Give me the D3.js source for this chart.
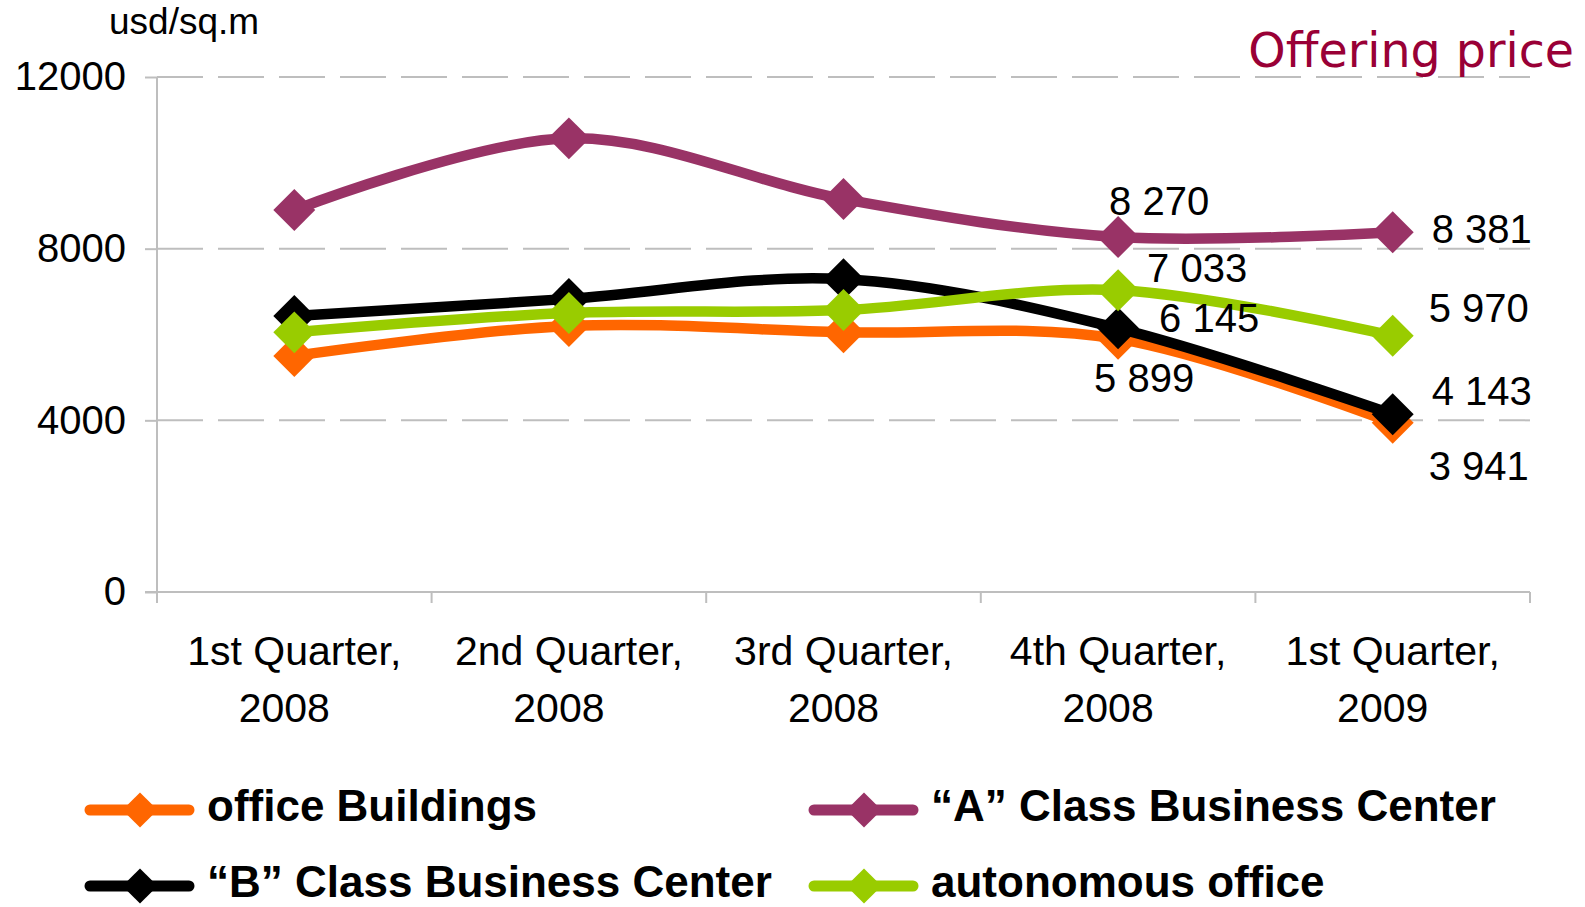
<!DOCTYPE html>
<html>
<head>
<meta charset="utf-8">
<script src="https://cdn.jsdelivr.net/npm/d3@7"></script>
<style>
    html, body { margin: 0; padding: 0; background: #fff; }
    svg { display: block; }
</style>
</head>
<body>
<svg></svg>
<script>
// DATA
const categories = [
    ["1st Quarter,", "2008"],
    ["2nd Quarter,", "2008"],
    ["3rd Quarter,", "2008"],
    ["4th Quarter,", "2008"],
    ["1st Quarter,", "2009"]
];
const officeBuildings = [5500, 6200, 6050, 5899, 3941];
const classA = [8900, 10570, 9155, 8270, 8381];
const classB = [6430, 6830, 7290, 6145, 4143];
const autonomousOffice = [6050, 6500, 6570, 7033, 5970];
const yTicks = [0, 4000, 8000, 12000];
const labelledPoints = [3, 4];

const seriesNames = ["office Buildings", "\u201CA\u201D Class Business Center", "\u201CB\u201D Class Business Center", "autonomous office"];
const seriesValues = [officeBuildings, classA, classB, autonomousOffice];
const seriesColors = ["#FF6600", "#993366", "#000000", "#99CC00"];

// label placement per series / point: [dx, dy, anchor]
const labelOffsets = [
    { 3: [26, 53, "middle"], 4: [36, 57, "start"] },
    { 3: [41, -22, "middle"], 4: [39, 11, "start"] },
    { 3: [41, 4, "start"], 4: [39, -9, "start"] },
    { 3: [29, -8, "start"], 4: [36, -14, "start"] }
];

// LAYOUT
const WIDTH = 1585, HEIGHT = 907;
const PLOT = { left: 157, right: 1530, top: 77, bottom: 592 };
const FONT = '"Liberation Sans", Arial, sans-serif';
const GRID_COLOR = "#BEBEBE";

const svg = d3.select("svg").attr("width", WIDTH).attr("height", HEIGHT);

const xBand = d3.scaleBand().domain(d3.range(categories.length)).range([PLOT.left, PLOT.right]);
const xCenter = i => xBand(i) + xBand.bandwidth() / 2;
const yScale = d3.scaleLinear().domain([0, 12000]).range([PLOT.bottom, PLOT.top]);

// gridlines
svg.append("g").selectAll("line")
    .data(yTicks.filter(t => t > 0))
    .join("line")
    .attr("x1", PLOT.left).attr("x2", PLOT.right)
    .attr("y1", d => yScale(d)).attr("y2", d => yScale(d))
    .style("stroke", GRID_COLOR).style("stroke-width", 2)
    .style("stroke-dasharray", "46,15");

// y axis
const yAxis = svg.append("g")
    .attr("transform", `translate(${PLOT.left},0)`)
    .call(d3.axisLeft(yScale).tickValues(yTicks).tickSize(12).tickPadding(19).tickFormat(d3.format("d")));
yAxis.select(".domain").attr("d", `M0,${PLOT.top}V${PLOT.bottom + 11}`);
yAxis.selectAll("line, .domain").style("stroke", GRID_COLOR).style("stroke-width", 2);
yAxis.selectAll("text")
    .style("font-family", FONT).style("font-size", "40px").style("fill", "#000");

// x axis
const xAxisG = svg.append("g").attr("transform", `translate(0,${PLOT.bottom})`);
xAxisG.append("line")
    .attr("x1", PLOT.left - 12).attr("x2", PLOT.right)
    .style("stroke", GRID_COLOR).style("stroke-width", 2);
xAxisG.selectAll(".xtick")
    .data(d3.range(categories.length + 1))
    .join("line")
    .attr("class", "xtick")
    .attr("x1", i => i < categories.length ? xBand(i) : PLOT.right)
    .attr("x2", i => i < categories.length ? xBand(i) : PLOT.right)
    .attr("y1", 0).attr("y2", 11)
    .style("stroke", GRID_COLOR).style("stroke-width", 2);

const catLabels = xAxisG.selectAll(".xlabel")
    .data(categories)
    .join("text")
    .attr("class", "xlabel")
    .attr("text-anchor", "middle")
    .style("font-family", FONT).style("font-size", "41px").style("fill", "#000");
catLabels.selectAll("tspan")
    .data((d, i) => d.map((t, j) => ({ t, j, i })))
    .join("tspan")
    .attr("x", d => xCenter(d.i) - (d.j === 1 ? 10 : 0))
    .attr("y", d => 73 + d.j * 57)
    .text(d => d.t);

// lines
const line = d3.line()
    .x((d, i) => xCenter(i))
    .y(d => yScale(d))
    .curve(d3.curveCardinal.tension(0));

const diamond = d3.symbol(d3.symbolSquare, 880);

seriesValues.forEach((values, s) => {
    const g = svg.append("g");
    g.append("path")
        .attr("d", line(values))
        .style("fill", "none")
        .style("stroke", seriesColors[s])
        .style("stroke-width", 10.5)
        .style("stroke-linejoin", "round");
    g.selectAll("path.marker")
        .data(values)
        .join("path")
        .attr("class", "marker")
        .attr("d", diamond)
        .attr("transform", (d, i) => `translate(${xCenter(i)},${yScale(d)}) rotate(45)`)
        .style("fill", seriesColors[s]);
});

// data labels
const fmt = v => d3.format(",")(v).replace(",", " ");
seriesValues.forEach((values, s) => {
    svg.append("g").selectAll("text")
        .data(labelledPoints)
        .join("text")
        .attr("x", i => xCenter(i) + labelOffsets[s][i][0])
        .attr("y", i => yScale(values[i]) + labelOffsets[s][i][1])
        .attr("text-anchor", i => labelOffsets[s][i][2])
        .style("font-family", FONT).style("font-size", "40px").style("fill", "#000")
        .text(i => fmt(values[i]));
});

// unit + title
svg.append("text")
    .attr("x", 109).attr("y", 34)
    .style("font-family", FONT).style("font-size", "37px").style("fill", "#000")
    .text("usd/sq.m");

svg.append("text")
    .attr("x", 1574).attr("y", 67)
    .attr("text-anchor", "end")
    .style("font-family", '"DejaVu Sans", Verdana, sans-serif').style("font-size", "47.5px")
    .style("fill", "#990036")
    .text("Offering price");

// legend
const legendPos = [
    { x: 90, y: 810 },
    { x: 814, y: 810 },
    { x: 90, y: 886 },
    { x: 814, y: 886 }
];
const legendDiamond = d3.symbol(d3.symbolSquare, 620);
const legend = svg.append("g").selectAll("g")
    .data(seriesNames)
    .join("g")
    .attr("transform", (d, i) => `translate(${legendPos[i].x},${legendPos[i].y})`);
legend.append("line")
    .attr("x1", 0).attr("x2", 99)
    .style("stroke", (d, i) => seriesColors[i])
    .style("stroke-width", 11)
    .style("stroke-linecap", "round");
legend.append("path")
    .attr("d", legendDiamond)
    .attr("transform", "translate(50,0) rotate(45)")
    .style("fill", (d, i) => seriesColors[i]);
legend.append("text")
    .attr("x", 117).attr("y", 11)
    .style("font-family", FONT).style("font-size", "44px").style("font-weight", "bold")
    .style("fill", "#000")
    .text(d => d);
</script>
</body>
</html>
